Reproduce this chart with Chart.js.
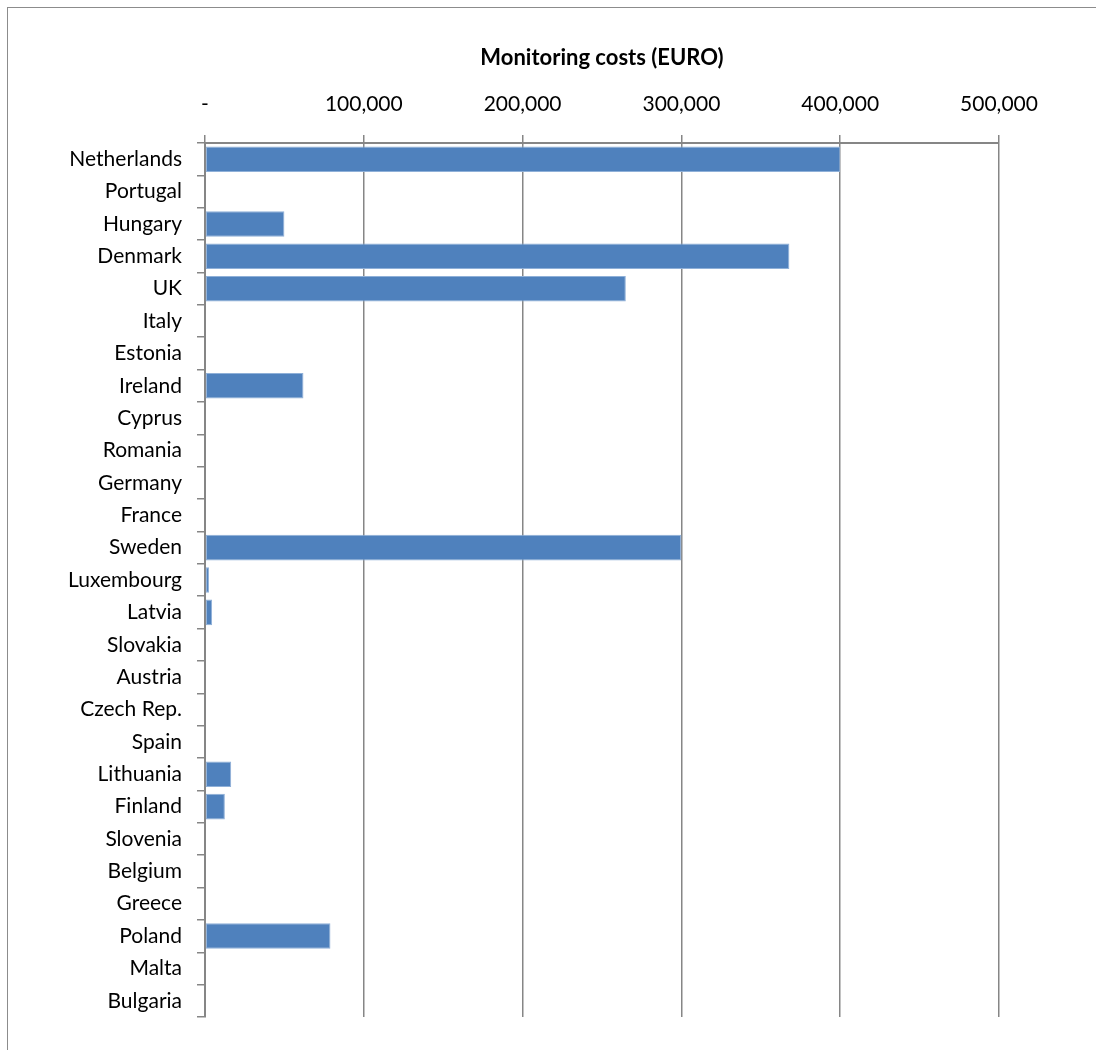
<!DOCTYPE html>
<html>
<head>
<meta charset="utf-8">
<script src="https://cdn.jsdelivr.net/npm/chart.js@4/dist/chart.umd.min.js"></script>
<style>
  html, body { margin: 0; padding: 0; background: #fff; }
</style>
</head>
<body>
<canvas id="myChart" width="1096" height="1050"></canvas>
<script>
// data
const countries = [
  "Netherlands", "Portugal", "Hungary", "Denmark", "UK", "Italy", "Estonia",
  "Ireland", "Cyprus", "Romania", "Germany", "France", "Sweden", "Luxembourg",
  "Latvia", "Slovakia", "Austria", "Czech Rep.", "Spain", "Lithuania",
  "Finland", "Slovenia", "Belgium", "Greece", "Poland", "Malta", "Bulgaria",
];
const costs = [
  400000, 0, 50000, 368000, 265000, 0, 0,
  62000, 0, 0, 0, 0, 300000, 2500,
  4500, 0, 0, 0, 0, 16500,
  12500, 0, 0, 0, 79000, 0, 0,
];
const xTickValues = [0, 100000, 200000, 300000, 400000, 500000];
const axisTitle = "Monitoring costs (EURO)";

const gridGray = "#868686";
const labelFont = { family: "Lato, 'Open Sans', sans-serif", size: 21 };

// outer frame around the whole chart
const framePlugin = {
  id: "frame",
  beforeDraw(chart) {
    let ctx = chart.ctx;
    ctx.save();
    ctx.fillStyle = "#fff";
    ctx.fillRect(0, 0, chart.width, chart.height);
    ctx.strokeStyle = "#8c8c8c";
    ctx.lineWidth = 1;
    ctx.strokeRect(7.5, 7.5, chart.width + 20, chart.height + 20);
    ctx.restore();
  },
};

renderChart();

function renderChart() {
  const ctx = document.getElementById("myChart").getContext("2d");
  new Chart(ctx, {
    type: "bar",
    data: {
      labels: countries,
      datasets: [
        {
          label: axisTitle,
          data: costs,
          backgroundColor: "#4f81bd",
          borderColor: "#8fb0d8",
          borderWidth: 1,
          borderSkipped: false,
          categoryPercentage: 1,
          barPercentage: 0.79,
        },
      ],
    },
    options: {
      indexAxis: "y",
      responsive: false,
      animation: false,
      layout: { padding: { left: 0, top: 0, right: 97, bottom: 33 } },
      plugins: {
        legend: { display: false },
        tooltip: { enabled: false },
      },
      scales: {
        x: {
          position: "top",
          min: 0,
          max: 500000,
          afterBuildTicks: (scale) => {
            scale.ticks = xTickValues.map((v) => ({ value: v }));
          },
          afterFit: (scale) => {
            scale.height = 143;
          },
          ticks: {
            color: "#000",
            font: labelFont,
            padding: 18,
            maxRotation: 0,
            callback: (v) => (v === 0 ? "-" : v.toLocaleString("en-US")),
          },
          grid: {
            color: gridGray,
            lineWidth: 1.5,
            tickLength: 8,
          },
          border: { color: gridGray, width: 2 },
          title: {
            display: true,
            text: axisTitle,
            color: "#000",
            font: { family: labelFont.family, size: 22, weight: "bold" },
            padding: { top: 45, bottom: 0 },
          },
        },
        y: {
          afterFit: (scale) => {
            scale.width = 205;
          },
          ticks: {
            color: "#000",
            font: labelFont,
            padding: 15,
            autoSkip: false,
          },
          grid: {
            drawOnChartArea: false,
            color: gridGray,
            lineWidth: 1.5,
            tickLength: 8,
          },
          border: { color: gridGray, width: 2 },
        },
      },
    },
    plugins: [framePlugin],
  });
}
</script>
</body>
</html>
